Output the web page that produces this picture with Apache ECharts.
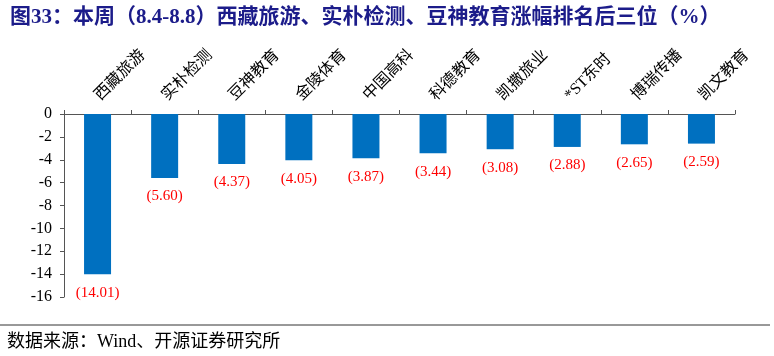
<!DOCTYPE html>
<html><head><meta charset="utf-8">
<script src="https://cdn.jsdelivr.net/npm/echarts@6/dist/echarts.min.js"></script>
<style>html,body{margin:0;padding:0;background:#fff}#c{width:774px;height:356px}</style>
</head><body><div id="c"></div>
<script>
var categories = ['西藏旅游','实朴检测','豆神教育','金陵体育','中国高科','科德教育','凯撒旅业','*ST东时','博瑞传播','凯文教育'];
var values = [-14.01,-5.60,-4.37,-4.05,-3.87,-3.44,-3.08,-2.88,-2.65,-2.59];
var titleText = '图33：本周（8.4-8.8）西藏旅游、实朴检测、豆神教育涨幅排名后三位（%）';
var sourceText = '数据来源：Wind、开源证券研究所';
var serif = '"Liberation Serif","DejaVu Serif","Noto Sans CJK SC",serif';
var chart = echarts.init(document.getElementById('c'));
chart.setOption({
  animation:false,
  title:{text:titleText,left:5,top:2,textStyle:{color:'#1c1c8a',fontSize:21,fontWeight:'bold',fontFamily:'"Liberation Serif","Noto Sans CJK SC",serif'}},
  grid:{left:64,right:39,top:114,bottom:59},
  xAxis:{type:'category',data:categories,position:'top',
    axisLine:{lineStyle:{color:'#555',width:1}},
    axisTick:{show:true,length:4,lineStyle:{color:'#555'}},
    axisLabel:{rotate:45,color:'#000',fontSize:16,fontFamily:serif,margin:16}},
  yAxis:{type:'value',min:-16,max:0,interval:2,
    axisLine:{show:true,lineStyle:{color:'#555'}},
    axisTick:{show:true,length:4,lineStyle:{color:'#555'}},
    splitLine:{show:false},
    axisLabel:{color:'#000',fontSize:16,fontFamily:serif,margin:12}},
  series:[{type:'bar',data:values,barWidth:27,itemStyle:{color:'#0070c0'},
    label:{show:true,position:'bottom',distance:11,color:'#ff0000',fontSize:15,fontFamily:serif,
      formatter:function(p){return '('+Math.abs(p.value).toFixed(2)+')';}}}],
  graphic:[
    {type:'line',shape:{x1:0,y1:325,x2:770,y2:325},style:{stroke:'#333',lineWidth:1}},
    {type:'text',left:7,top:333,style:{text:sourceText,fontSize:18,fontFamily:serif,fill:'#000'}}
  ]
});
</script></body></html>
